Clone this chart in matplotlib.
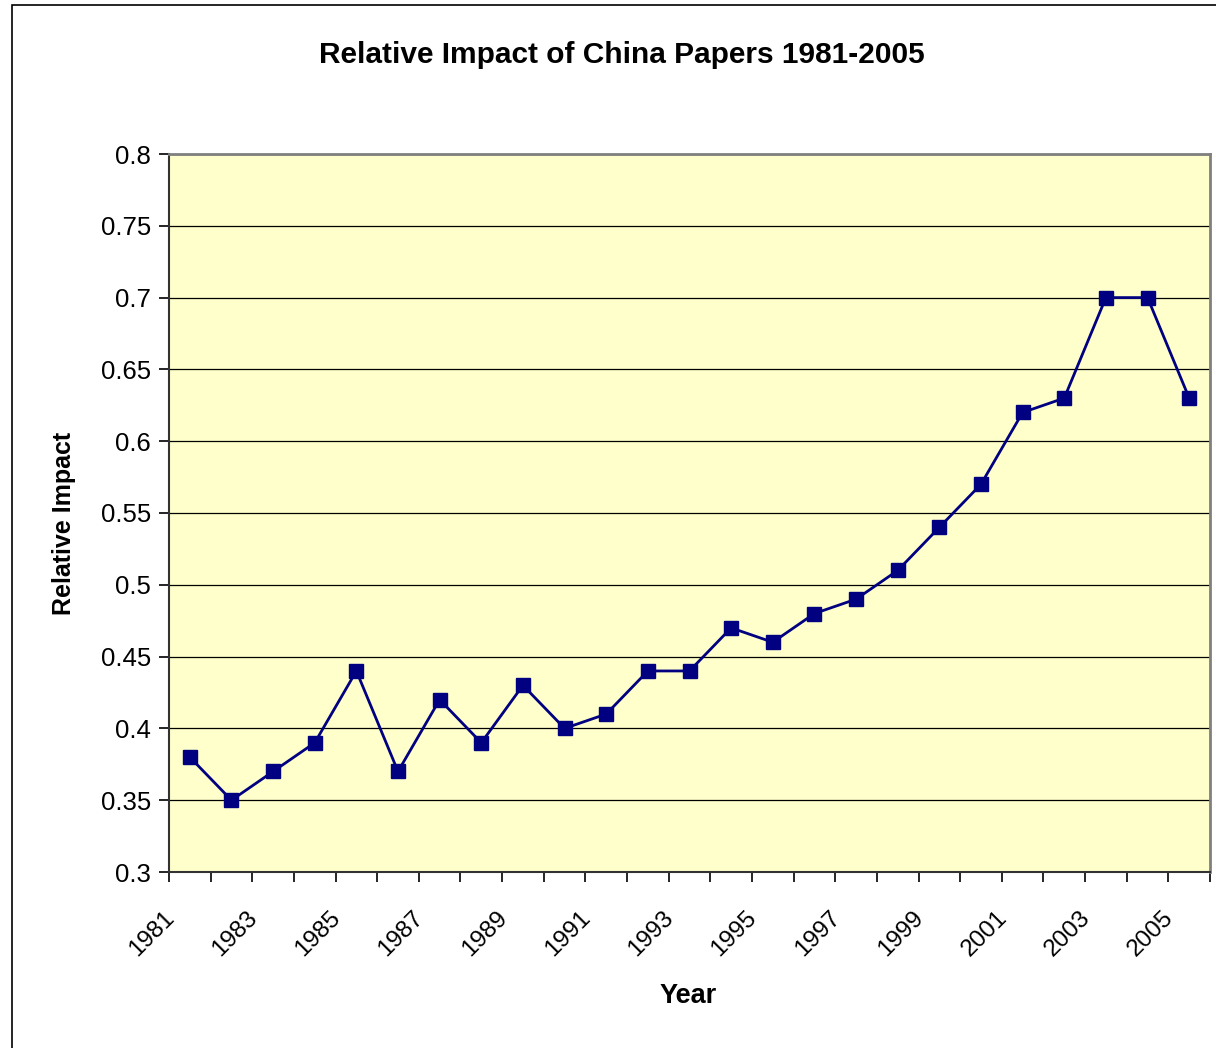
import matplotlib
matplotlib.use("Agg")
import matplotlib.pyplot as plt
from matplotlib.patches import Rectangle
from matplotlib.transforms import ScaledTranslation

years = list(range(1981, 2006))
impact = [0.38, 0.35, 0.37, 0.39, 0.44, 0.37, 0.42, 0.39, 0.43, 0.40,
          0.41, 0.44, 0.44, 0.47, 0.46, 0.48, 0.49, 0.51, 0.54, 0.57,
          0.62, 0.63, 0.70, 0.70, 0.63]
yticks = [0.3, 0.35, 0.4, 0.45, 0.5, 0.55, 0.6, 0.65, 0.7, 0.75, 0.8]
ytick_labels = ["0.3", "0.35", "0.4", "0.45", "0.5", "0.55", "0.6", "0.65", "0.7", "0.75", "0.8"]

plt.rcParams['font.family'] = ['Liberation Sans', 'DejaVu Sans']

W, H = 1216, 1048
fig = plt.figure(figsize=(W / 100, H / 100), dpi=100)
fig.patch.set_facecolor('white')

# outer chart frame
fig.patches.append(Rectangle((12 / W, -0.01), 1.2, 1 - 5 / H + 0.01, transform=fig.transFigure,
                             fill=False, edgecolor='black', linewidth=1.2))

ax = fig.add_axes([169 / W, 1 - 872 / H, (1210 - 169) / W, (872 - 154) / H])
ax.set_facecolor('#FFFFCC')

n = len(years)
x = list(range(n))
ax.plot(x, impact, color='#000080', linewidth=2, marker='s', markersize=10,
        markerfacecolor='#000080', markeredgecolor='#000080', zorder=3, clip_on=False)

ax.set_xlim(-0.5, n - 0.5)
ax.set_ylim(0.3, 0.8)
ax.set_yticks(yticks)
ax.set_yticklabels(ytick_labels, fontsize=18.5)
ax.yaxis.grid(True, color='black', linewidth=0.9)
ax.set_axisbelow(True)

# category boundaries as ticks; labels every other year at centers
ax.set_xticks([i - 0.5 for i in range(n + 1)])
ax.set_xticklabels([])
ax.set_xticks(x[::2], minor=True)
ax.set_xticklabels([str(y) for y in years[::2]], minor=True, rotation=45,
                   ha='right', va='top', rotation_mode='anchor', fontsize=17.5)
ax.tick_params(axis='x', which='minor', length=0, pad=25)
ax.tick_params(axis='x', which='major', length=7, width=1.2, direction='out')
ax.tick_params(axis='y', length=7, width=1.2, direction='out', pad=6)
off = ScaledTranslation(-27 / 100, 0, fig.dpi_scale_trans)
for lab in ax.get_xticklabels(minor=True):
    lab.set_transform(lab.get_transform() + off)

for s in ['top', 'right']:
    ax.spines[s].set_color('#808080')
    ax.spines[s].set_linewidth(2)
for s in ['left', 'bottom']:
    ax.spines[s].set_color('#333333')
    ax.spines[s].set_linewidth(1.5)

fig.text(622 / W, 1 - 55 / H, "Relative Impact of China Papers 1981-2005",
         ha='center', va='center', fontsize=21.5, fontweight='bold')
fig.text(64 / W, 1 - 523 / H, "Relative Impact", rotation=90,
         ha='center', va='center', fontsize=18, fontweight='bold')
fig.text(688 / W, 1 - 996 / H, "Year", ha='center', va='center',
         fontsize=19.5, fontweight='bold')

fig.savefig("out.png", dpi=100)
